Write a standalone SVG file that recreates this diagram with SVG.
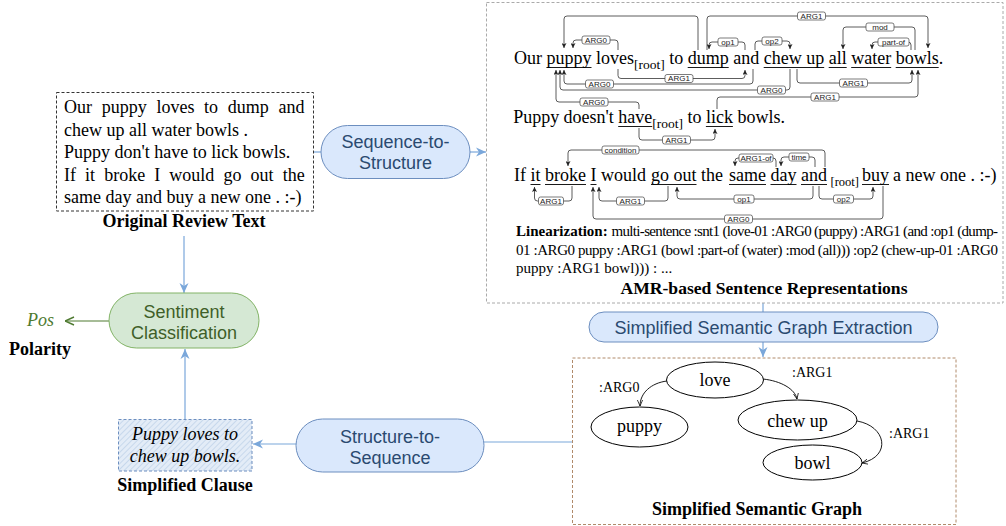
<svg xmlns="http://www.w3.org/2000/svg" width="1006" height="526" viewBox="0 0 1006 526">
<style>
.sf{font-family:"Liberation Serif","Times New Roman",serif;fill:#000}
.ss{font-family:"Liberation Sans",Arial,sans-serif}
.w18{font-size:18px}
.b{font-weight:bold}
.it{font-style:italic}
.sub{font-size:13.5px}
.ul{stroke:#000;stroke-width:0.9}
.arc{fill:none;stroke:#333;stroke-width:0.8;marker-end:url(#ah)}
.lb rect{fill:#fff;stroke:#444;stroke-width:0.7}
.lb text{font-family:"Liberation Sans",Arial,sans-serif;font-size:8px;fill:#222;text-anchor:middle}
.bp{fill:#dae8fc;stroke:#6c8ebf;stroke-width:1}
.bt{font-family:"Liberation Sans",Arial,sans-serif;font-size:18px;fill:#2a4a70;text-anchor:middle}
.gp{fill:#d5e8d4;stroke:#82b366;stroke-width:1}
.gt{font-family:"Liberation Sans",Arial,sans-serif;font-size:18px;fill:#3f5f28;text-anchor:middle}
.con{fill:none;stroke:#7aa7da;stroke-width:1.2}
.ge{fill:none;stroke:#000;stroke-width:0.9;marker-end:url(#gh)}
.el{fill:#fff;stroke:#000;stroke-width:1}
.lin{font-family:"Liberation Serif","Times New Roman",serif;font-size:15px}
.mid{text-anchor:middle}
</style>
<defs>
<marker id="ah" viewBox="0 0 8 8" refX="8" refY="4" markerWidth="5" markerHeight="5" markerUnits="userSpaceOnUse" orient="auto">
<path d="M0,0 L8,4 L0,8 L2,4 Z" fill="#222"/>
</marker>
<marker id="ba" viewBox="0 0 10 10" refX="10" refY="5" markerWidth="10" markerHeight="10" markerUnits="userSpaceOnUse" orient="auto">
<path d="M0,0.5 L10,5 L0,9.5 L3,5 Z" fill="#7aa7da"/>
</marker>
<marker id="ga" viewBox="0 0 10 10" refX="10" refY="5" markerWidth="10" markerHeight="10" markerUnits="userSpaceOnUse" orient="auto">
<path d="M1,1 L10,5 L1,9" fill="none" stroke="#4e7a30" stroke-width="1.4"/>
</marker>
<marker id="gh" viewBox="0 0 8 8" refX="8" refY="4" markerWidth="6" markerHeight="6" markerUnits="userSpaceOnUse" orient="auto">
<path d="M0,0.5 L8,4 L0,7.5" fill="none" stroke="#000" stroke-width="1"/>
</marker>
<pattern id="hatch" width="4" height="4" patternUnits="userSpaceOnUse" patternTransform="rotate(45)">
<rect width="4" height="4" fill="#e3ecf7"/>
<line x1="0" y1="0" x2="0" y2="4" stroke="#b5cbe6" stroke-width="1.2"/>
</pattern>
</defs>
<rect width="1006" height="526" fill="#fff"/>

<g id="connectors">
<path class="con" d="M313,152 H321"/>
<path class="con" d="M470,152 H486" marker-end="url(#ba)"/>
<path class="con" d="M763,303 V312"/>
<path class="con" d="M763,342 V357" marker-end="url(#ba)"/>
<path class="con" d="M572,442 H484"/>
<path class="con" d="M296,444 H253" marker-end="url(#ba)"/>
<path class="con" d="M185,419 V349" marker-end="url(#ba)"/>
<path class="con" d="M184,236 V293" marker-end="url(#ba)"/>
<path fill="none" stroke="#4e7a30" stroke-width="1.2" d="M109,321 H65" marker-end="url(#ga)"/>
</g>

<g id="review">
<rect x="56.5" y="92.5" width="257" height="118.5" fill="#fff" stroke="#333" stroke-width="1" stroke-dasharray="3,2"/>
<text class="sf w18" x="64" y="113" style="word-spacing:5.2px">Our puppy loves to dump and</text>
<text class="sf w18" x="64" y="135.5">chew up all water bowls .</text>
<text class="sf w18" x="64" y="158">Puppy don't have to lick bowls.</text>
<text class="sf w18" x="64" y="180.5" style="word-spacing:4.6px">If it broke I would go out the</text>
<text class="sf w18" x="64" y="203">same day and buy a new one . :-)</text>
<text class="sf w18 b mid" x="184" y="227">Original Review Text</text>
</g>

<g id="seq2struct">
<rect class="bp" x="321" y="125.5" width="149" height="53" rx="26.5"/>
<text class="bt" x="395.5" y="147.5">Sequence-to-</text>
<text class="bt" x="395.5" y="168.5">Structure</text>
</g>

<g id="amr">
<rect x="486.5" y="2.5" width="516.5" height="300.5" fill="none" stroke="#aaa" stroke-width="1" stroke-dasharray="3,2"/>
<text class="sf w18" y="64"><tspan x="514">Our</tspan><tspan x="546.5">puppy</tspan><tspan x="596">loves</tspan><tspan x="669.2">to</tspan><tspan x="687.7">dump</tspan><tspan x="733.2">and</tspan><tspan x="763.7">chew up</tspan><tspan x="828.7">all</tspan><tspan x="851.2">water</tspan><tspan x="895.7">bowls.</tspan></text>
<text class="sf sub" x="634" y="68.5">[root]</text>
<text class="sf w18" y="123"><tspan x="513.3">Puppy</tspan><tspan x="563.5">doesn't</tspan><tspan x="618.2">have</tspan><tspan x="687.4">to</tspan><tspan x="705.9">lick</tspan><tspan x="737.4">bowls.</tspan></text>
<text class="sf sub" x="652.2" y="127.5">[root]</text>
<text class="sf w18" y="181"><tspan x="514">If</tspan><tspan x="530.5">it</tspan><tspan x="545">broke</tspan><tspan x="590.5">I</tspan><tspan x="601">would</tspan><tspan x="651">go out</tspan><tspan x="701">the</tspan><tspan x="729">same</tspan><tspan x="770.5">day</tspan><tspan x="801">and</tspan><tspan x="862">buy</tspan><tspan x="893">a new one . :-)</tspan></text>
<text class="sf" style="font-size:12.5px" x="830.5" y="185.5">[root]</text>
<g id="underlines">
<path class="ul" d="M546.5,67.5 H591.5 M687.7,67.5 H728.7 M763.7,67.5 H824.2 M828.7,67.5 H846.7 M851.2,67.5 H891.2 M895.7,67.5 H938.7"/>
<path class="ul" d="M618.2,126.5 H652.2 M705.9,126.5 H732.9"/>
<path class="ul" d="M530.5,184.5 H540.5 M545,184.5 H586 M590.5,184.5 H596.5 M651,184.5 H696.5 M729,184.5 H766 M770.5,184.5 H796.5 M801,184.5 H827 M862,184.5 H889"/>
</g>
<g id="amr-arcs">
<path class="arc" d="M618,50 V43 Q618,40 615,40 H576 Q573,40 573,43 V48"/>
<path class="arc" d="M698,50 V19 Q698,16 695,16 H567 Q564,16 564,19 V48"/>
<path class="arc" d="M707,50 V19 Q707,16 710,16 H925 Q928,16 928,19 V48"/>
<path class="arc" d="M745,50 V45 Q745,42 742,42 H712 Q709,42 709,45 V49"/>
<path class="arc" d="M755,50 V44 Q755,41 758,41 H787 Q790,41 790,44 V49"/>
<path class="arc" d="M915,50 V30 Q915,27 912,27 H846 Q843,27 843,30 V49"/>
<path class="arc" d="M911,50 V45 Q911,42 908,42 H875 Q872,42 872,45 V49"/>
<path class="arc" d="M618,69 V75.5 Q618,78.5 621,78.5 H742 Q745,78.5 745,75.5 V70"/>
<path class="arc" d="M753,69 V81 Q753,84 750,84 H567 Q564,84 564,81 V70"/>
<path class="arc" d="M790,69 V87 Q790,90 787,90 H563 Q560,90 560,87 V70"/>
<path class="arc" d="M797,69 V80 Q797,83 800,83 H909 Q912,83 912,80 V70"/>
<path class="arc" d="M639,109 V105 Q639,102 636,102 H559 Q556,102 556,99 V70"/>
<path class="arc" d="M717,109 V100 Q717,97 720,97 H915 Q918,97 918,94 V70"/>
<path class="arc" d="M639,128 V137 Q639,140 642,140 H712 Q715,140 715,137 V129"/>
<path class="arc" d="M825,167 V153 Q825,150 822,150 H571 Q568,150 568,153 V166"/>
<path class="arc" d="M776,167 V161 Q776,158 773,158 H738 Q735,158 735,161 V166"/>
<path class="arc" d="M815,167 V160 Q815,157 812,157 H784 Q781,157 781,160 V166"/>
<path class="arc" d="M572,186 V198 Q572,201 569,201 H537.5 Q534.5,201 534.5,198 V187"/>
<path class="arc" d="M668,186 V198 Q668,201 665,201 H602 Q599,201 599,198 V187"/>
<path class="arc" d="M813,186 V196 Q813,199 810,199 H680 Q677,199 677,196 V187"/>
<path class="arc" d="M819,186 V196 Q819,199 822,199 H870 Q873,199 873,196 V187"/>
<path class="arc" d="M883,186 V216 Q883,219 880,219 H596 Q593,219 593,216 V187"/>
</g>
<g id="amr-labels" class="lb">
<rect x="582" y="36" width="28" height="8" rx="2"/><text x="596" y="42.9">ARG0</text>
<rect x="797.5" y="12" width="28" height="8" rx="2"/><text x="811.5" y="18.9">ARG1</text>
<rect x="718" y="38" width="20" height="8" rx="2"/><text x="728" y="44.9">op1</text>
<rect x="762" y="37" width="20" height="8" rx="2"/><text x="772" y="43.9">op2</text>
<rect x="866" y="23" width="28" height="8" rx="2"/><text x="880" y="29.9">mod</text>
<rect x="878" y="38" width="31" height="8" rx="2"/><text x="893.5" y="44.9">part-of</text>
<rect x="665" y="74.5" width="28" height="8" rx="2"/><text x="679" y="81.4">ARG1</text>
<rect x="585.5" y="80" width="28" height="8" rx="2"/><text x="599.5" y="86.9">ARG0</text>
<rect x="757.5" y="86" width="28" height="8" rx="2"/><text x="771.5" y="92.9">ARG0</text>
<rect x="839.5" y="79" width="28" height="8" rx="2"/><text x="853.5" y="85.9">ARG1</text>
<rect x="580" y="98" width="28" height="8" rx="2"/><text x="594" y="104.9">ARG0</text>
<rect x="811" y="93" width="28" height="8" rx="2"/><text x="825" y="99.9">ARG1</text>
<rect x="662.5" y="136" width="28" height="8" rx="2"/><text x="676.5" y="142.9">ARG1</text>
<rect x="602" y="146" width="37" height="8" rx="2"/><text x="620.5" y="152.9">condition</text>
<rect x="739" y="154" width="34" height="8" rx="2"/><text x="756" y="160.9">ARG1-of</text>
<rect x="789" y="153" width="20" height="8" rx="2"/><text x="799" y="159.9">time</text>
<rect x="538.5" y="197" width="25" height="8" rx="2"/><text x="551" y="203.9">ARG1</text>
<rect x="616.5" y="197" width="28" height="8" rx="2"/><text x="630.5" y="203.9">ARG1</text>
<rect x="734" y="195" width="20" height="8" rx="2"/><text x="744" y="201.9">op1</text>
<rect x="833.5" y="195" width="20" height="8" rx="2"/><text x="843.5" y="201.9">op2</text>
<rect x="724.5" y="215" width="28" height="8" rx="2"/><text x="738.5" y="221.9">ARG0</text>
</g>
<text class="lin b" x="516" y="236">Linearization:</text>
<text class="lin" x="611.5" y="236" textLength="386.5" lengthAdjust="spacing">multi-sentence :snt1 (love-01 :ARG0 (puppy) :ARG1 (and :op1 (dump-</text>
<text class="lin" x="516" y="254.5" textLength="482" lengthAdjust="spacing">01 :ARG0 puppy :ARG1 (bowl :part-of (water) :mod (all))) :op2 (chew-up-01 :ARG0</text>
<text class="lin" x="516" y="273">puppy :ARG1 bowl))) : ...</text>
<text class="sf b mid" style="font-size:17.6px" x="764" y="294">AMR-based Sentence Representations</text>
</g>

<g id="ssge">
<rect class="bp" x="589" y="312" width="349" height="30" rx="15"/>
<text class="bt" x="763.5" y="333.5">Simplified Semantic Graph Extraction</text>
</g>

<g id="graph">
<rect x="572.5" y="358" width="383.5" height="166.5" fill="none" stroke="#b08a6a" stroke-width="1" stroke-dasharray="3,2"/>
<g id="graph-edges">
<path class="ge" d="M667,381 C651,383 640,393 640,406"/>
<path class="ge" d="M763,379 C781,381 795,389 797,399"/>
<path class="ge" d="M857,421 C886,426 892,456 862,463"/>
</g>
<text class="sf" style="font-size:14px" x="599" y="392">:ARG0</text>
<text class="sf" style="font-size:14px" x="792" y="377">:ARG1</text>
<text class="sf" style="font-size:14px" x="889" y="438">:ARG1</text>
<g id="n-love"><ellipse class="el" cx="715" cy="380" rx="48.5" ry="18"/><text class="sf w18 mid" x="715" y="386">love</text></g>
<g id="n-puppy"><ellipse class="el" cx="639.5" cy="427" rx="48.5" ry="20"/><text class="sf w18 mid" x="639.5" y="432">puppy</text></g>
<g id="n-chewup"><ellipse class="el" cx="797.5" cy="420" rx="59.5" ry="20"/><text class="sf w18 mid" x="797.5" y="426.5">chew up</text></g>
<g id="n-bowl"><ellipse class="el" cx="812.5" cy="462.5" rx="49.5" ry="17.5"/><text class="sf w18 mid" x="812.5" y="468.5">bowl</text></g>
<text class="sf w18 b mid" x="757" y="515">Simplified Semantic Graph</text>
</g>

<g id="struct2seq">
<rect class="bp" x="296" y="419" width="188" height="53" rx="26.5"/>
<text class="bt" x="390" y="443">Structure-to-</text>
<text class="bt" x="390" y="464">Sequence</text>
</g>

<g id="clause">
<rect x="118.5" y="419.5" width="133.5" height="51.5" fill="url(#hatch)" stroke="#6c8ebf" stroke-width="1" stroke-dasharray="3,2"/>
<text class="sf w18 it mid" x="185" y="439.5">Puppy loves to</text>
<text class="sf w18 it mid" x="185" y="461.5">chew up bowls.</text>
<text class="sf w18 b mid" x="185" y="491">Simplified Clause</text>
</g>

<g id="sentiment">
<rect class="gp" x="109" y="293" width="150" height="55" rx="27.5"/>
<text class="gt" x="184" y="317.5">Sentiment</text>
<text class="gt" x="184" y="338.5">Classification</text>
</g>

<g id="polarity">
<text class="sf w18 it" x="27" y="326" style="fill:#4e7a30">Pos</text>
<text class="sf w18 b" x="9" y="355">Polarity</text>
</g>
</svg>
